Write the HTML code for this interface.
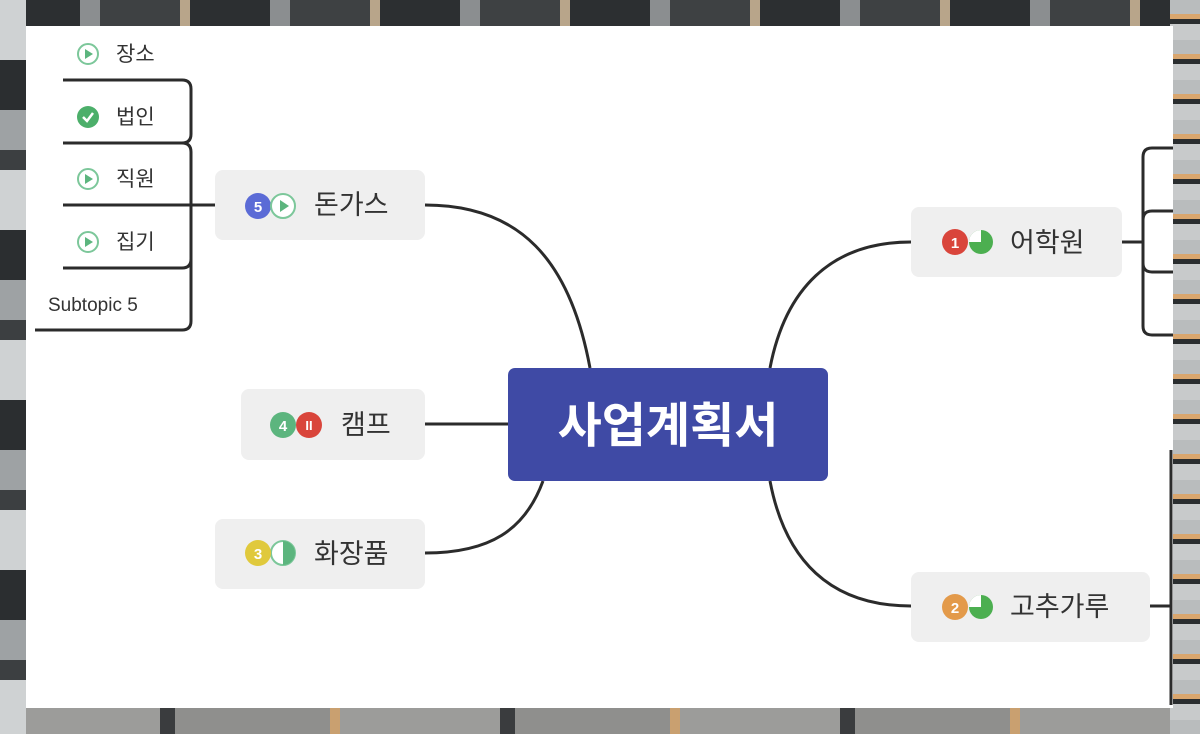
<!DOCTYPE html>
<html><head><meta charset="utf-8"><style>
html,body{margin:0;padding:0;width:1200px;height:734px;overflow:hidden;}
body{background:#5a5d60;position:relative;font-family:"Liberation Sans","Noto Sans CJK KR",sans-serif;}
.stripes{position:absolute;left:1170px;top:0;width:30px;height:734px;background:repeating-linear-gradient(180deg,#b9bcbd 0,#b9bcbd 14px,#d9a66e 14px,#d9a66e 19px,#2a2d2f 19px,#2a2d2f 24px,#c8cacb 24px,#c8cacb 40px);}
.topstrip{position:absolute;left:0;top:0;width:1200px;height:26px;background:repeating-linear-gradient(90deg,#2c2f31 0,#2c2f31 80px,#8b8e90 80px,#8b8e90 100px,#3e4143 100px,#3e4143 180px,#b8a58a 180px,#b8a58a 190px);}
.botstrip{position:absolute;left:0;top:708px;width:1200px;height:26px;background:repeating-linear-gradient(90deg,#9c9c9a 0,#9c9c9a 160px,#3a3c3e 160px,#3a3c3e 175px,#8f8f8d 175px,#8f8f8d 330px,#c9a070 330px,#c9a070 340px);}
.leftstrip{position:absolute;left:0;top:0;width:26px;height:734px;background:repeating-linear-gradient(180deg,#cfd2d3 0,#cfd2d3 60px,#2b2e30 60px,#2b2e30 110px,#9ea2a4 110px,#9ea2a4 150px,#3c3f41 150px,#3c3f41 170px);}
.panel{position:absolute;left:26px;top:26px;width:1147px;height:682px;background:#fff;}
svg{position:absolute;left:0;top:0;}
</style></head><body>
<div class="topstrip"></div><div class="botstrip"></div><div class="leftstrip"></div><div class="stripes"></div>
<div class="panel"></div>
<svg width="1200" height="734" viewBox="0 0 1200 734">
<g fill="none" stroke="#2b2b2b" stroke-width="3">
<path d="M425 205 C520 205 570 260 590 368"/>
<path d="M425 424 L508 424"/>
<path d="M425 553 C490 553 525 530 543 481"/>
<path d="M770 368 C785 290 830 242 911 242"/>
<path d="M770 481 C785 560 830 606 911 606"/>
<path d="M63 80 H182 Q191 80 191 89 V134 Q191 143 182 143 H63"/>
<path d="M182 143 Q191 143 191 152 V259 Q191 268 182 268 H63"/>
<path d="M63 205 H215"/>
<path d="M191 259 V321 Q191 330 182 330 H35"/>
<path d="M1122 242 H1143"/>
<path d="M1173 148 H1152 Q1143 148 1143 157 V326 Q1143 335 1152 335 H1173"/>
<path d="M1173 211 H1152 Q1143 211 1143 220 V263 Q1143 272 1152 272 H1173"/>
<path d="M1150 606 H1171"/>
<path d="M1171 450 V705"/>
</g>
<g fill="#efefef">
<rect x="215" y="170" width="210" height="70" rx="8"/>
<rect x="241" y="389" width="184" height="71" rx="8"/>
<rect x="215" y="519" width="210" height="70" rx="8"/>
<rect x="911" y="207" width="211" height="70" rx="8"/>
<rect x="911" y="572" width="239" height="70" rx="8"/>
</g>
<rect x="508" y="368" width="320" height="113" rx="7" fill="#3f4aa5"/>
<text x="668" y="442" font-size="48" font-weight="bold" fill="#fff" text-anchor="middle" font-family="Liberation Sans,Noto Sans CJK KR,sans-serif">사업계획서</text>
<g font-size="27" fill="#333" font-family="Liberation Sans,Noto Sans CJK KR,sans-serif">
<text x="314" y="214">돈가스</text>
<text x="341" y="434">캠프</text>
<text x="314" y="563">화장품</text>
<text x="1010" y="252">어학원</text>
<text x="1010" y="616">고추가루</text>
</g>
<g font-size="21" fill="#333" font-family="Liberation Sans,Noto Sans CJK KR,sans-serif">
<text x="116" y="61">장소</text>
<text x="116" y="124">법인</text>
<text x="116" y="186">직원</text>
<text x="116" y="249">집기</text>
<text x="48" y="311" font-size="19">Subtopic 5</text>
</g>
<g>
<g transform="translate(88,54)"><circle r="10" fill="#fff" stroke="#7cc79a" stroke-width="2"/><path d="M-3 -5 L5 0 L-3 5Z" fill="#5cb57e"/></g>
<g transform="translate(88,117)"><circle r="11" fill="#4caf6a"/><path d="M-5 0 L-1 4 L5 -4" stroke="#fff" stroke-width="2.5" fill="none"/></g>
<g transform="translate(88,179)"><circle r="10" fill="#fff" stroke="#7cc79a" stroke-width="2"/><path d="M-3 -5 L5 0 L-3 5Z" fill="#5cb57e"/></g>
<g transform="translate(88,242)"><circle r="10" fill="#fff" stroke="#7cc79a" stroke-width="2"/><path d="M-3 -5 L5 0 L-3 5Z" fill="#5cb57e"/></g>
</g>
<g font-family="Liberation Sans,sans-serif" font-weight="bold" font-size="15" text-anchor="middle" fill="#fff">
<g transform="translate(258,206)"><circle r="13" fill="#5b6bd6"/><text y="6">5</text></g>
<g transform="translate(283,206)"><circle r="12" fill="#fff" stroke="#7cc79a" stroke-width="2"/><path d="M-3 -6 L6 0 L-3 6Z" fill="#5cb57e"/></g>
<g transform="translate(283,553)"><circle r="12" fill="#fff" stroke="#7cc79a" stroke-width="2"/><path d="M0 -12 A12 12 0 0 1 0 12Z" fill="#5cb57e"/></g>
<g transform="translate(258,553)"><circle r="13" fill="#e0c93c"/><text y="6">3</text></g>
<g transform="translate(309,425)"><circle r="13" fill="#d9453b"/><text y="5" font-size="13">II</text></g>
<g transform="translate(283,425)"><circle r="13" fill="#5cb57e"/><text y="6">4</text></g>
<g transform="translate(981,242)"><circle r="12" fill="#4caf50"/><path d="M0 0 L0 -12 A12 12 0 0 0 -12 0Z" fill="#fff"/></g>
<g transform="translate(955,242)"><circle r="13" fill="#d9453b"/><text y="6">1</text></g>
<g transform="translate(981,607)"><circle r="12" fill="#4caf50"/><path d="M0 0 L0 -12 A12 12 0 0 0 -12 0Z" fill="#fff"/></g>
<g transform="translate(955,607)"><circle r="13" fill="#e39a4a"/><text y="6">2</text></g>
</g>
</svg>
</body></html>
